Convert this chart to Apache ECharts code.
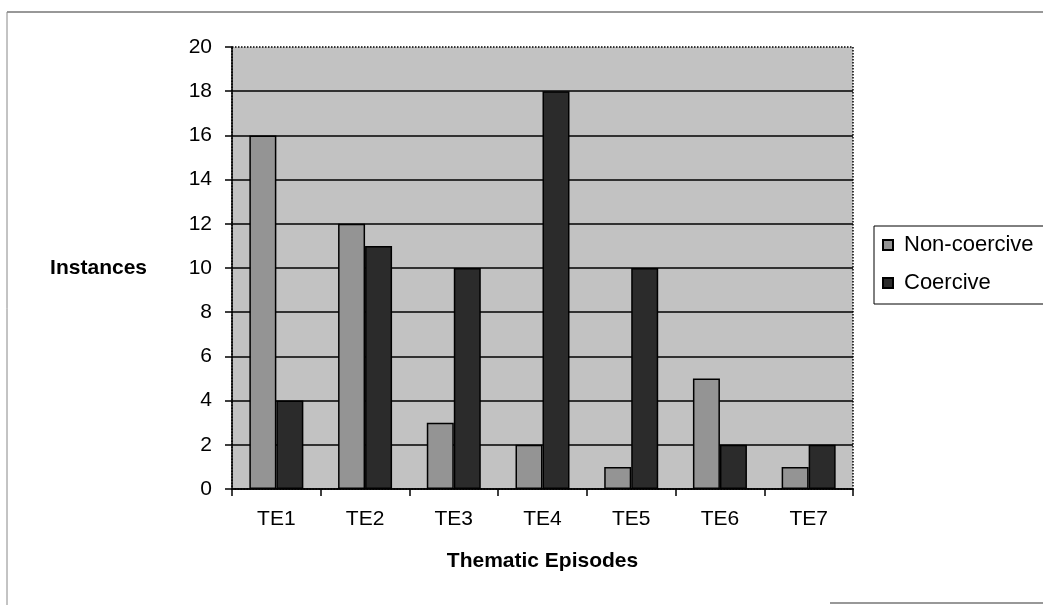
<!DOCTYPE html>
<html>
<head>
<meta charset="utf-8">
<script src="https://cdn.jsdelivr.net/npm/echarts@6/dist/echarts.min.js"></script>
<style>
html,body{margin:0;padding:0;background:#fff;}
#chart{width:1043px;height:605px;}
</style>
</head>
<body>
<div id="chart"></div>
<script>
const categories = ['TE1','TE2','TE3','TE4','TE5','TE6','TE7'];
const nonCoercive = [16, 12, 3, 2, 1, 5, 1];
const coercive = [4, 11, 10, 18, 10, 2, 2];
const seriesNames = ['Non-coercive', 'Coercive'];
const yTicks = [0, 2, 4, 6, 8, 10, 12, 14, 16, 18, 20];

const chart = echarts.init(document.getElementById('chart'), null, {renderer: 'canvas'});
const font = 'Liberation Sans, Arial, sans-serif';
const splitColors = yTicks.map((v, i) => i === yTicks.length - 1 ? 'transparent' : '#000');

chart.setOption({
  animation: false,
  backgroundColor: '#fff',
  textStyle: {fontFamily: font, color: '#000'},
  grid: {
    left: 232, right: 190, top: 47, bottom: 116,
    show: true, backgroundColor: '#c2c2c2',
    borderColor: '#000', borderWidth: 1.5, borderType: 'dotted'
  },
  legend: {
    orient: 'vertical',
    left: 874, top: 226,
    data: seriesNames,
    itemWidth: 10, itemHeight: 10,
    itemGap: 16,
    icon: 'rect',
    borderColor: '#000', borderWidth: 1,
    padding: [8, 60, 10, 8],
    textStyle: {fontFamily: font, fontSize: 22, color: '#000', padding: [0, 0, 0, 6]}
  },
  xAxis: {
    type: 'category',
    data: categories,
    name: 'Thematic Episodes',
    nameLocation: 'middle',
    nameGap: 62,
    nameTextStyle: {fontFamily: font, fontSize: 21, fontWeight: 'bold', color: '#000'},
    axisLine: {lineStyle: {color: '#000', width: 1.5}},
    axisTick: {show: true, length: 7, lineStyle: {color: '#000', width: 1.5}},
    axisLabel: {fontFamily: font, fontSize: 21, color: '#000', margin: 20},
    splitLine: {show: false}
  },
  yAxis: {
    type: 'value',
    min: 0, max: 20, interval: 2,
    name: 'Instances',
    nameLocation: 'middle',
    nameRotate: 0,
    nameGap: 85,
    nameTextStyle: {fontFamily: font, fontSize: 21, fontWeight: 'bold', color: '#000', align: 'right'},
    axisLine: {show: true, lineStyle: {color: '#000', width: 1.5}},
    axisTick: {show: true, length: 7, lineStyle: {color: '#000', width: 1.5}},
    axisLabel: {fontFamily: font, fontSize: 21, color: '#000', margin: 20},
    splitLine: {show: true, lineStyle: {color: splitColors, width: 1.5}}
  },
  series: [
    {
      name: seriesNames[0], type: 'bar', data: nonCoercive,
      barWidth: 27, barGap: '0%',
      itemStyle: {color: '#949494', borderColor: '#000', borderWidth: 1.5}
    },
    {
      name: seriesNames[1], type: 'bar', data: coercive,
      barWidth: 27, barGap: '0%',
      itemStyle: {color: '#2b2b2b', borderColor: '#000', borderWidth: 1.5}
    }
  ],
  graphic: [
    {type: 'line', shape: {x1: 7, y1: 12, x2: 1043, y2: 12}, style: {stroke: '#333', lineWidth: 1.2}},
    {type: 'line', shape: {x1: 7, y1: 12, x2: 7, y2: 605}, style: {stroke: '#888', lineWidth: 1}},
    {type: 'line', shape: {x1: 830, y1: 603, x2: 1043, y2: 603}, style: {stroke: '#333', lineWidth: 1.2}}
  ]
});
</script>
</body>
</html>
